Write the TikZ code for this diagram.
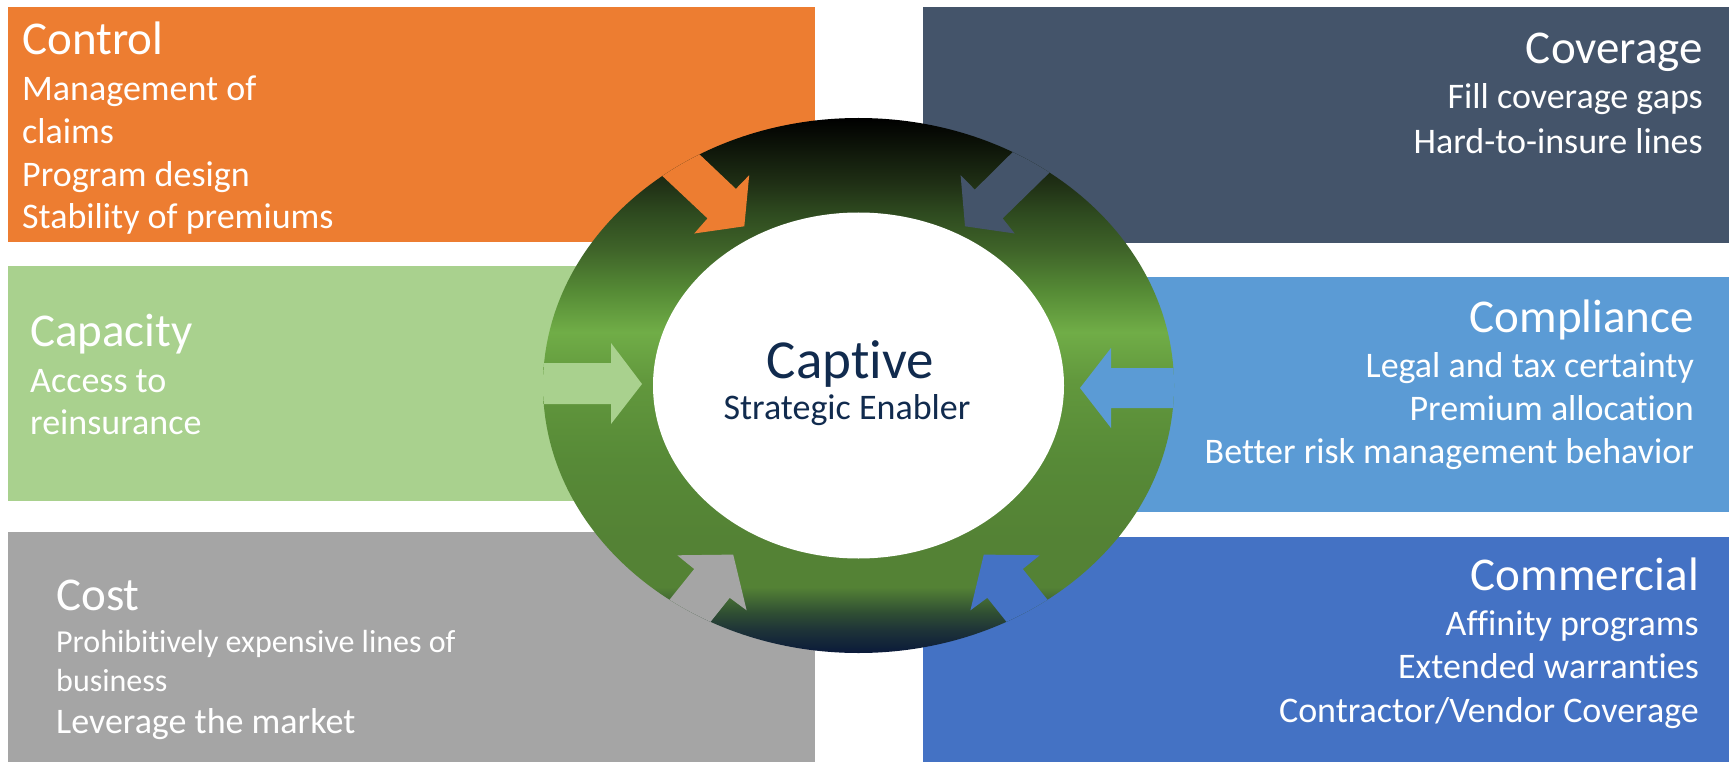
\documentclass[tikz,border=0pt]{standalone}
\usepackage{fontspec}
\setmainfont{Carlito}[Ligatures=NoCommon]

% panel colours
\definecolor{ctrlC}{HTML}{ED7D31}
\definecolor{covC}{HTML}{44546A}
\definecolor{capC}{HTML}{A9D18E}
\definecolor{cmpC}{HTML}{5B9BD5}
\definecolor{costC}{HTML}{A5A5A5}
\definecolor{comC}{HTML}{4472C4}
\definecolor{hubtext}{HTML}{112B4E}

% ring gradient stops, top to bottom
\definecolor{rgA}{HTML}{000000}
\definecolor{rgB}{HTML}{1F2F15}
\definecolor{rgC}{HTML}{2E4A1F}
\definecolor{rgD}{HTML}{3F6429}
\definecolor{rgE}{HTML}{558A35}
\definecolor{rgF}{HTML}{70AD47}
\definecolor{rgG}{HTML}{62983D}
\definecolor{rgH}{HTML}{578A37}
\definecolor{rgI}{HTML}{548235}
\definecolor{rgJ}{HTML}{548235}
\definecolor{rgK}{HTML}{2F4E33}
\definecolor{rgL}{HTML}{1E3338}
\definecolor{rgM}{HTML}{0A1A3A}

\pgfdeclareverticalshading{ringshade}{100bp}{%
  color(0bp)=(rgM); color(25bp)=(rgM); color(27.15bp)=(rgL);
  color(28.74bp)=(rgK); color(31.17bp)=(rgJ); color(35.56bp)=(rgI);
  color(43.04bp)=(rgH); color(50.51bp)=(rgG); color(55bp)=(rgF);
  color(58.93bp)=(rgE); color(62.66bp)=(rgD); color(66.12bp)=(rgC);
  color(68.93bp)=(rgB); color(75bp)=(rgA); color(100bp)=(rgA)}

\begin{document}
\begin{tikzpicture}[x=1pt,y=-1pt,
  ttl/.style={font=\fontsize{47}{56}\selectfont, text=white, inner sep=0pt},
  txt/.style={font=\fontsize{36}{43}\selectfont, text=white, inner sep=0pt},
  smalltxt/.style={font=\fontsize{32}{38}\selectfont, text=white, inner sep=0pt},
  hubtitle/.style={font=\fontsize{55}{64}\selectfont, text=hubtext, inner sep=0pt},
  hubsub/.style={font=\fontsize{36}{43}\selectfont, text=hubtext, inner sep=0pt},
  lft/.style={anchor=base west},
  rgt/.style={anchor=base east}]

\useasboundingbox (0,0) rectangle (1729,762);

% six panels
\fill[ctrlC] (8,7) rectangle (815,242);
\fill[covC]  (923,7) rectangle (1729,243);
\fill[capC]  (8,266) rectangle (700,501);
\fill[cmpC]  (1020,277) rectangle (1729,512);
\fill[costC] (8,532) rectangle (815,762);
\fill[comC]  (923,537) rectangle (1729,762);

% central ring
\coordinate (hub) at (858.5,385.5);
\shade[shading=ringshade] (hub) ellipse[x radius=315.5pt, y radius=267.5pt];
\fill[white] (hub) ellipse[x radius=205.5pt, y radius=173pt];

% inward arrows cut through the ring
\begin{scope}
  \clip (hub) ellipse[x radius=315.5pt, y radius=267.5pt];
  % control (top left)
  \fill[ctrlC] (675.9,132) -- (735.9,188.9) -- (749.2,175.2) -- (744.3,226.3)
     -- (694.2,233.5) -- (707.5,218.4) -- (639,154) -- cycle;
  % coverage (top right)
  \fill[covC] (1035,130) -- (974.8,189.6) -- (960.6,175.2) -- (965,226.3)
     -- (1014.7,233.5) -- (1002.7,218.4) -- (1072,150.6) -- cycle;
  % capacity (left)
  \fill[capC] (500,363) -- (611,363) -- (611,343) -- (642,384)
     -- (611,424) -- (611,404) -- (500,404) -- cycle;
  % compliance (right)
  \fill[cmpC] (1220,368) -- (1111,368) -- (1111,348) -- (1080,388)
     -- (1111,428) -- (1111,408) -- (1220,408) -- cycle;
  % cost (bottom left)
  \fill[costC] (690.9,646.3) -- (729.7,597.8) -- (746.6,610.3) -- (733.2,554.6)
     -- (677.3,555.3) -- (694.2,569) -- (650.9,622.9) -- cycle;
  % commercial (bottom right)
  \fill[comC] (1026.1,646.3) -- (987.3,597.8) -- (970.4,610.3) -- (983.8,554.6)
     -- (1039.7,555.3) -- (1022.8,569) -- (1066.1,622.9) -- cycle;
\end{scope}

% hub label
\node[hubtitle, anchor=base] (captive) at (850.5,378) {Captive};
\node[hubsub, anchor=base] (enabler) at (847,419) {Strategic Enabler};

% control
\node[ttl, lft] (ctl0) at (22,55) {Control};
\node[txt, lft] (ctl1) at (22,101) {Management of};
\node[txt, lft] (ctl2) at (22,144) {claims};
\node[txt, lft] (ctl3) at (22,187) {Program design};
\node[txt, lft] (ctl4) at (22,229) {Stability of premiums};

% coverage
\node[ttl, rgt] (cov0) at (1703,64) {Coverage};
\node[txt, rgt] (cov1) at (1703,109) {Fill coverage gaps};
\node[txt, rgt] (cov2) at (1703,154) {Hard-to-insure lines};

% capacity
\node[ttl, lft] (cap0) at (30,346) {Capacity};
\node[txt, lft] (cap1) at (30,392) {Access to};
\node[txt, lft] (cap2) at (30,434) {reinsurance};

% compliance
\node[ttl, rgt] (cmp0) at (1694,332) {Compliance};
\node[txt, rgt] (cmp1) at (1694,377) {Legal and tax certainty};
\node[txt, rgt] (cmp2) at (1694,420) {Premium allocation};
\node[txt, rgt] (cmp3) at (1694,463) {Better risk management behavior};

% cost
\node[ttl, lft] (cst0) at (56,610) {Cost};
\node[smalltxt, lft] (cst1) at (56,652) {Prohibitively expensive lines of};
\node[smalltxt, lft] (cst2) at (56,691) {business};
\node[txt, lft] (cst3) at (56,733) {Leverage the market};

% commercial
\node[ttl, rgt] (com0) at (1699,590) {Commercial};
\node[txt, rgt] (com1) at (1699,635) {Affinity programs};
\node[txt, rgt] (com2) at (1699,678) {Extended warranties};
\node[txt, rgt] (com3) at (1699,722) {Contractor/Vendor Coverage};
\end{tikzpicture}
\end{document}
